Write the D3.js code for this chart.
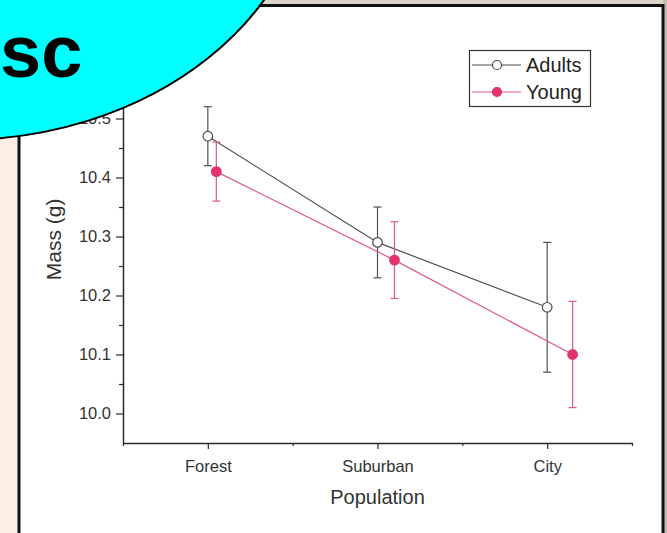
<!DOCTYPE html>
<html><head><meta charset="utf-8">
<script src="https://cdn.jsdelivr.net/npm/d3@7"></script>
<style>html,body{margin:0;padding:0;background:#fbeee2;overflow:hidden}</style>
</head><body>
<script>
const categories = ["Forest", "Suburban", "City"];
const adultMean = [10.47, 10.29, 10.18];
const adultErr = [0.05, 0.06, 0.11];
const youngMean = [10.41, 10.26, 10.10];
const youngErr = [0.05, 0.065, 0.09];
const yTicks = [10.0, 10.1, 10.2, 10.3, 10.4, 10.5];
const seriesNames = ["Adults", "Young"];

const W = 667, H = 533;
const font = "'Liberation Sans', Arial, sans-serif";
const svg = d3.select("body").append("svg").attr("width", W).attr("height", H);

// page background
svg.append("rect").attr("width", W).attr("height", H).attr("fill", "#fbeee2");
svg.append("rect").attr("x", 0).attr("y", 0).attr("width", W).attr("height", 5).attr("fill", "#ddd4ca");
svg.append("rect").attr("x", 663).attr("y", 0).attr("width", 4).attr("height", H).attr("fill", "#c4bcb4");
svg.append("rect").attr("x", 19).attr("y", 5.5).attr("width", 644).attr("height", H + 10)
  .attr("fill", "#fff").attr("stroke", "#111").attr("stroke-width", 3);

const x = d3.scaleLinear().domain([0.5, 3.5]).range([123, 632]);
const y = d3.scaleLinear().domain([9.95, 10.6]).range([443, 59.5]);

const g = svg.append("g");
const axisCol = "#2a2a2a", textCol = "#333";

// y axis
const yAx = g.append("g").attr("transform", `translate(${x(0.5)},0)`)
  .call(d3.axisLeft(y).tickValues(yTicks).tickFormat(d3.format(".1f")).tickSize(7).tickSizeOuter(0));
yAx.select(".domain").attr("stroke", axisCol).attr("stroke-width", 1.5);
yAx.selectAll(".tick line").attr("stroke", axisCol).attr("stroke-width", 1.2);
yAx.selectAll("text").attr("font-family", font).attr("font-size", 16.5).attr("fill", textCol).attr("x", -12);
const yMinor = g.append("g").attr("transform", `translate(${x(0.5)},0)`)
  .call(d3.axisLeft(y).tickValues(yTicks.map(v => v + 0.05)).tickFormat("").tickSize(4).tickSizeOuter(0));
yMinor.select(".domain").remove();
yMinor.selectAll(".tick line").attr("stroke", axisCol).attr("stroke-width", 1.2);

// x axis
const xAx = g.append("g").attr("transform", `translate(0,${y(9.95)})`)
  .call(d3.axisBottom(x).tickValues([1, 2, 3]).tickFormat((d, i) => categories[i]).tickSize(6).tickSizeOuter(0));
xAx.select(".domain").attr("stroke", axisCol).attr("stroke-width", 1.5);
xAx.selectAll(".tick line").attr("stroke", axisCol).attr("stroke-width", 1.2);
xAx.selectAll("text").attr("font-family", font).attr("font-size", 16.5).attr("fill", textCol).attr("dy", "1.2em");
const xMinor = g.append("g").attr("transform", `translate(0,${y(9.95)})`)
  .call(d3.axisBottom(x).tickValues([0.5, 1.5, 2.5, 3.5]).tickFormat("").tickSize(3).tickSizeOuter(0));
xMinor.select(".domain").remove();
xMinor.selectAll(".tick line").attr("stroke", axisCol).attr("stroke-width", 1.2);

// axis titles
g.append("text").attr("x", x(2)).attr("y", 504).attr("text-anchor", "middle")
  .attr("font-family", font).attr("font-size", 20).attr("fill", textCol).text("Population");
g.append("text").attr("transform", `translate(61,${y(10.295)}) rotate(-90)`).attr("text-anchor", "middle")
  .attr("font-family", font).attr("font-size", 21).attr("fill", textCol).text("Mass (g)");

// series
const adultCol = "#4a4a4a", youngCol = "#e4336b", youngLine = "#e0588a";
const adults = categories.map((c, i) => ({ xv: i + 1, m: adultMean[i], e: adultErr[i] }));
const young = categories.map((c, i) => ({ xv: i + 1 + 0.05 * (i + 1), m: youngMean[i], e: youngErr[i] }));

function drawSeries(data, lineCol, markCol, filled) {
  const s = g.append("g");
  s.append("path").datum(data)
    .attr("d", d3.line().x(d => x(d.xv)).y(d => y(d.m)))
    .attr("fill", "none").attr("stroke", lineCol).attr("stroke-width", 1.2);
  const eb = s.selectAll(".eb").data(data).enter().append("g");
  eb.append("line").attr("x1", d => x(d.xv)).attr("x2", d => x(d.xv))
    .attr("y1", d => y(d.m + d.e)).attr("y2", d => y(d.m - d.e))
    .attr("stroke", lineCol).attr("stroke-width", 1.2);
  [1, -1].forEach(sg => {
    eb.append("line").attr("x1", d => x(d.xv) - 4).attr("x2", d => x(d.xv) + 4)
      .attr("y1", d => y(d.m + sg * d.e)).attr("y2", d => y(d.m + sg * d.e))
      .attr("stroke", lineCol).attr("stroke-width", 1.2);
  });
  s.selectAll(".pt").data(data).enter().append("circle")
    .attr("cx", d => x(d.xv)).attr("cy", d => y(d.m)).attr("r", 4.8)
    .attr("fill", filled ? markCol : "#fff").attr("stroke", markCol).attr("stroke-width", 1.2);
}
drawSeries(adults, "#505050", adultCol, false);
drawSeries(young, youngLine, youngCol, true);

// legend
const lg = g.append("g");
lg.append("rect").attr("x", 469.5).attr("y", 50.5).attr("width", 121).attr("height", 56)
  .attr("fill", "#fff").attr("stroke", "#333").attr("stroke-width", 1.2);
const legendItems = [
  { name: seriesNames[0], line: "#505050", mark: adultCol, filled: false },
  { name: seriesNames[1], line: youngLine, mark: youngCol, filled: true }
];
legendItems.forEach((it, i) => {
  const yy = 65 + i * 27;
  lg.append("line").attr("x1", 472).attr("x2", 521).attr("y1", yy).attr("y2", yy)
    .attr("stroke", it.line).attr("stroke-width", 1.2);
  lg.append("circle").attr("cx", 497).attr("cy", yy).attr("r", 4.5)
    .attr("fill", it.filled ? it.mark : "#fff").attr("stroke", it.mark).attr("stroke-width", 1.2);
  lg.append("text").attr("x", 526).attr("y", yy + 7).attr("font-family", font).attr("font-size", 20)
    .attr("fill", "#222").text(it.name);
});

// cyan overlay shape
svg.append("ellipse").attr("cx", -40).attr("cy", -140).attr("rx", 351).attr("ry", 280)
  .attr("fill", "#00ffff").attr("stroke", "#000").attr("stroke-width", 2);
svg.append("text").attr("x", 0).attr("y", 77).attr("text-anchor", "start")
  .attr("font-family", font).attr("font-weight", "bold").attr("font-size", 74).attr("fill", "#000").text("sc");
</script>
</body></html>
